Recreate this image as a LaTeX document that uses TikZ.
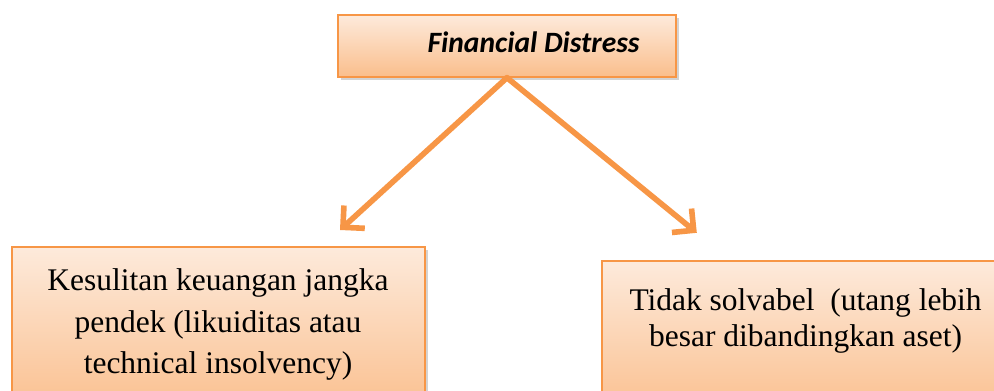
\documentclass[tikz,border=0pt]{standalone}
\usepackage{fontspec}
\setmainfont{Liberation Serif}
\newfontfamily\calibri{Carlito}
\usetikzlibrary{arrows.meta,shadows}

\definecolor{peachtop}{RGB}{253,234,219}
\definecolor{peachbot}{RGB}{250,190,140}
\definecolor{orangeline}{RGB}{247,150,70}

\begin{document}
\begin{tikzpicture}
% Page size and clipping
\useasboundingbox (0,0) rectangle (24.85,9.75);
\clip (0,0) rectangle (24.85,9.75);

\tikzset{
  peachbox/.style={rectangle, draw=orangeline, line width=1pt, top color=peachtop, bottom color=peachbot,
    drop shadow={shadow xshift=2pt, shadow yshift=-2pt, opacity=0.35}},
  boxtext/.style={anchor=north, align=center},
  orangearrow/.style={draw=orangeline, line width=4pt, line cap=round, -{Straight Barb[length=11pt, width=22pt, line width=4pt]}}
}

% Boxes
\node[peachbox, minimum width=8.45cm, minimum height=1.55cm] (distress) at (12.675, 8.6) {};
\node[anchor=base, font=\calibri\fontsize{21}{24}\selectfont\bfseries\itshape] (distresstext) at (13.34, 8.425) {Financial Distress};

\node[peachbox, minimum width=10.325cm, minimum height=4.25cm] (shortterm) at (5.4625, 1.45) {};
\node[boxtext, font=\fontsize{22.4}{29.5}\selectfont] (shorttermtext) at (5.45, 3.15) {Kesulitan keuangan jangka\\pendek (likuiditas atau\\technical insolvency)};

\node[peachbox, minimum width=9.95cm, minimum height=3.975cm] (insolvent) at (20.025, 1.2375) {};
\node[boxtext, font=\fontsize{22.4}{25.6}\selectfont] (insolventtext) at (20.14, 2.65) {Tidak solvabel~ (utang lebih\\besar dibandingkan aset)};

% Arrows
\coordinate (lefttip) at (8.5, 4.0);
\coordinate (righttip) at (17.42, 3.93);
\draw[orangearrow] (distress.south) -- (lefttip);
\draw[orangearrow] (distress.south) -- (righttip);
\end{tikzpicture}
\end{document}
